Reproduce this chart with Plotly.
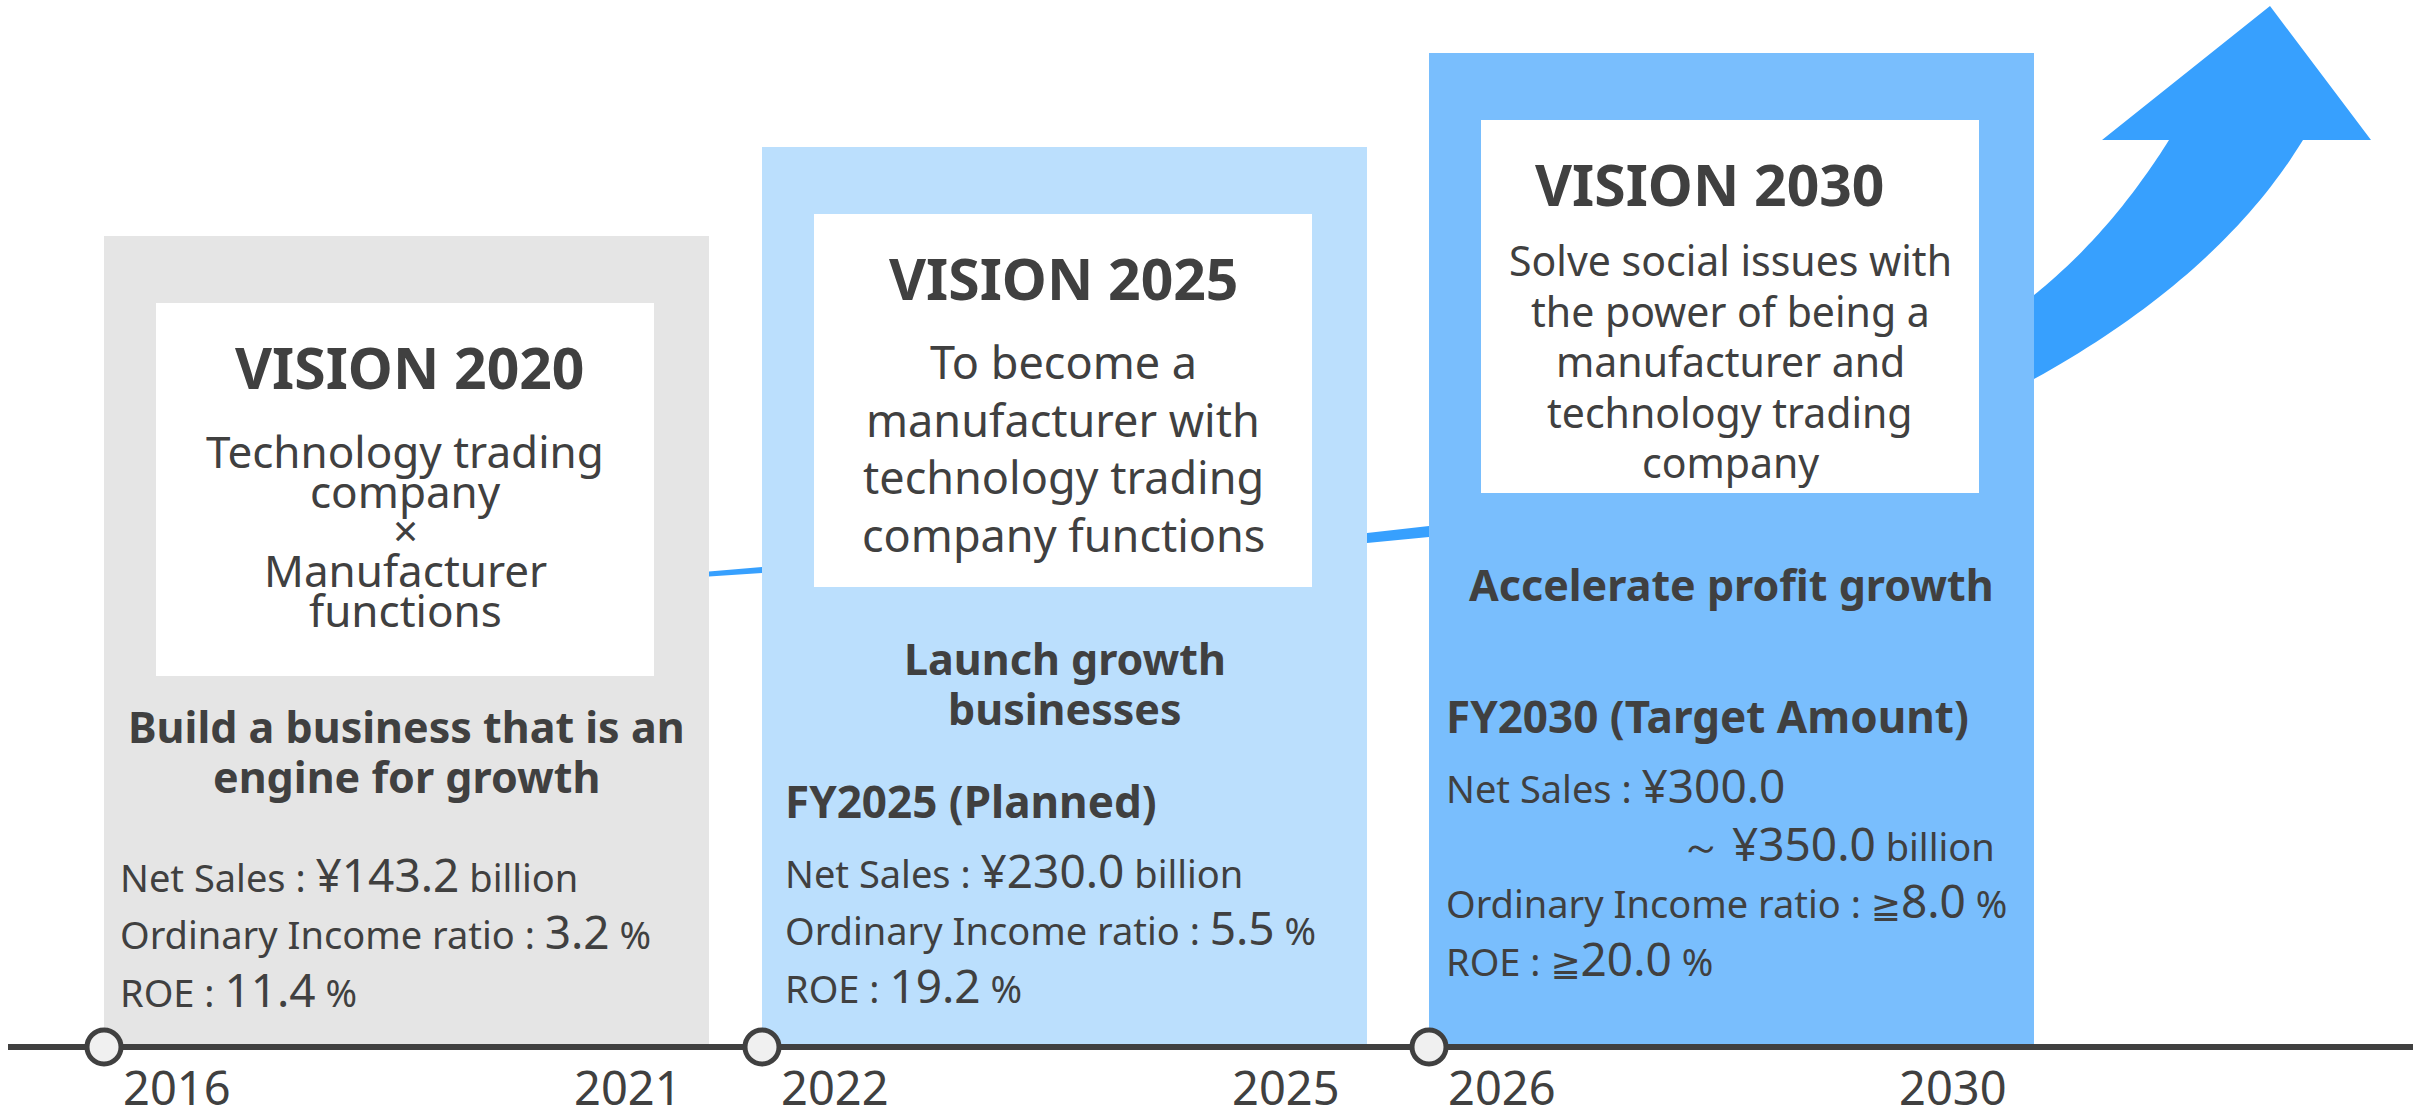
import plotly.graph_objects as go

# ---------------- data ----------------
visions = ["VISION 2020", "VISION 2025", "VISION 2030"]
start_years = [2016, 2022, 2026]
end_years = [2021, 2025, 2030]
vision_statements = [
    ["Technology trading", "company", "×", "Manufacturer", "functions"],
    ["To become a", "manufacturer with", "technology trading", "company functions"],
    ["Solve social issues with", "the power of being a", "manufacturer and",
     "technology trading", "company"],
]
themes = [
    ["Build a business that is an", "engine for growth"],
    ["Launch growth", "businesses"],
    ["Accelerate profit growth"],
]
result_headers = ["", "FY2025 (Planned)", "FY2030 (Target Amount)"]
net_sales_low = [143.2, 230.0, 300.0]
net_sales_high = [None, None, 350.0]
ordinary_income_ratio = [3.2, 5.5, 8.0]
roe = [11.4, 19.2, 20.0]
at_least = [False, False, True]

# ---------------- style / layout ----------------
W, H = 2433, 1110
FONT = "Noto Sans, DejaVu Sans, sans-serif"
TXT = "#404040"
box_colors = ["#E5E5E5", "#BBDFFD", "#79BEFD"]
ARROW = "#37A0FE"

lefts = (104, 762, 1429)
box_w = 605
box_tops = (236, 147, 53)
timeline_y = 1047
inner_dx, inner_w, inner_dy, inner_h = 52, 498, 67, 373
title_dx = (4, 0, -21)
desc_font = (44, 45, 41)
desc_first = (165, 165, 156)
desc_gap = (39.75, 57.7, 50.5)
theme_base = (743, 675, 601)
theme_font = 43
metric_first = (892, 888, 803)
metric_left = (14, 21, 15)
LBL, NUM = 38, 46

ann = []
shapes = []


def text(x, baseline, s, size, anchor="center", top=None):
    t = top or size
    ann.append(dict(x=x, y=baseline - 0.388 * t, xref="x", yref="y", text=s,
                    showarrow=False, xanchor=anchor, yanchor="middle",
                    font=dict(family=FONT, size=size, color=TXT)))


rights = [l + box_w for l in lefts]

# ---- arrow (behind the boxes) ----
def qbez(p0, p1, p2, n=40):
    pts = []
    for k in range(n + 1):
        t = k / n
        pts.append(((1 - t) ** 2 * p0[0] + 2 * t * (1 - t) * p1[0] + t * t * p2[0],
                    (1 - t) ** 2 * p0[1] + 2 * t * (1 - t) * p1[1] + t * t * p2[1]))
    return pts

r0, l1, r1, l2, r2 = rights[0], lefts[1], rights[1], lefts[2], rights[2]
upper = [(650, 572), (r0, 571.5), (l1, 567), (r1, 533), (l2, 526)]
upper += qbez((r2, 295), (2110, 234), (2169, 140))
head = [(2102, 140), (2270, 6), (2371, 140)]
lower = qbez((2303, 140), (2219, 277), (r2, 379))
lower += [(l2, 537), (r1, 543), (l1, 573), (r0, 576.5), (650, 577)]
pts = upper + head + lower
path = "M " + " L ".join(f"{x:.1f},{y:.1f}" for x, y in pts) + " Z"
shapes.append(dict(type="path", path=path, xref="x", yref="y", fillcolor=ARROW,
                   line=dict(width=0), layer="below"))

for i, name in enumerate(visions):
    L, R, T = lefts[i], rights[i], box_tops[i]
    shapes.append(dict(type="rect", x0=L, x1=R, y0=T, y1=timeline_y, xref="x", yref="y",
                       fillcolor=box_colors[i], line=dict(width=0), layer="below"))
    it = T + inner_dy
    shapes.append(dict(type="rect", x0=L + inner_dx, x1=L + inner_dx + inner_w,
                       y0=it, y1=it + inner_h, xref="x", yref="y",
                       fillcolor="white", line=dict(width=0), layer="below"))
    cx_in = L + inner_dx + inner_w / 2
    text(cx_in + title_dx[i], it + 86, f"<b>{name}</b>", 57)
    for k, line in enumerate(vision_statements[i]):
        text(cx_in, it + desc_first[i] + k * desc_gap[i], line, desc_font[i])
    for k, line in enumerate(themes[i]):
        text((L + R) / 2, theme_base[i] + k * 50, f"<b>{line}</b>", theme_font)

    xl = L + metric_left[i]
    yb = metric_first[i]
    if result_headers[i]:
        text(xl, yb - 70, f"<b>{result_headers[i]}</b>", 44, anchor="left")
    big = lambda s: f"<span style='font-size:{NUM}px'>{s}</span>"
    ge = "<span style='font-size:36px'>≧</span>" if at_least[i] else ""
    if net_sales_high[i] is None:
        text(xl, yb, f"Net Sales : {big(f'¥{net_sales_low[i]:.1f}')} billion", LBL, "left", NUM)
    else:
        text(xl, yb, f"Net Sales : {big(f'¥{net_sales_low[i]:.1f}')}", LBL, "left", NUM)
        yb += 58
        text(R - 37, yb,
             f"<span style='font-size:42px'>～</span> {big(f'¥{net_sales_high[i]:.1f}')} billion",
             LBL, "right", NUM)
    text(xl, yb + 57, f"Ordinary Income ratio : {ge}{big(f'{ordinary_income_ratio[i]:.1f}')} %",
         LBL, "left", NUM)
    text(xl, yb + 115, f"ROE : {ge}{big(f'{roe[i]:.1f}')} %", LBL, "left", NUM)

    text(L + 17, 1105, str(start_years[i]), 47, "left")
    text(R - 25, 1105, str(end_years[i]), 47, "right")

# timeline
shapes.append(dict(type="line", x0=8, x1=2413, y0=timeline_y, y1=timeline_y, xref="x", yref="y",
                   line=dict(color="#404040", width=6), layer="below"))

fig = go.Figure()
fig.add_trace(go.Scatter(
    x=list(lefts), y=[timeline_y] * len(lefts), mode="markers", hoverinfo="skip",
    text=[str(y) for y in start_years],
    marker=dict(size=34, color="#F0F0F0", line=dict(color="#404040", width=5)),
    showlegend=False))

fig.update_layout(
    width=W, height=H, margin=dict(l=0, r=0, t=0, b=0),
    paper_bgcolor="white", plot_bgcolor="white",
    xaxis=dict(range=[0, W], visible=False, fixedrange=True),
    yaxis=dict(range=[H, 0], visible=False, fixedrange=True),
    shapes=shapes, annotations=ann, showlegend=False,
)

fig.write_html("out.html", config={"displayModeBar": False},
               post_script="document.body.style.margin='0';document.body.style.overflow='hidden';")
